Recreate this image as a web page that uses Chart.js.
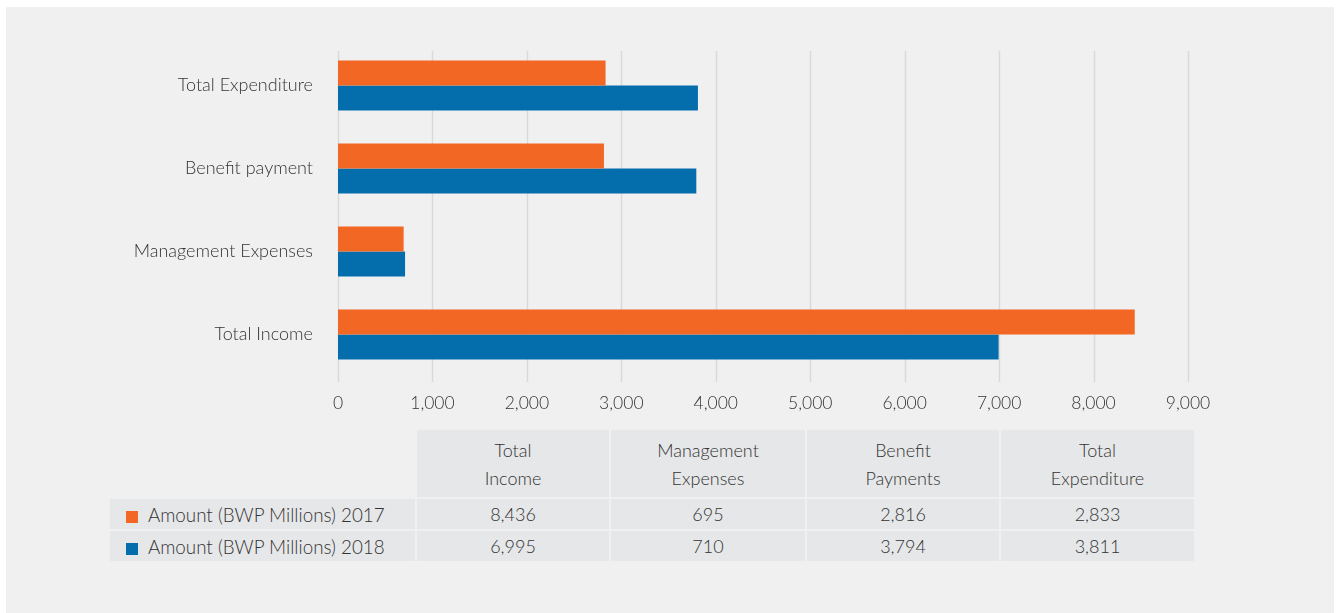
<!DOCTYPE html>
<html>
<head>
<meta charset="utf-8">
<script src="https://cdn.jsdelivr.net/npm/chart.js@4/dist/chart.umd.min.js"></script>
<style>
  html, body { margin: 0; padding: 0; background: #ffffff; }
  body { width: 1341px; height: 613px; position: relative; overflow: hidden;
         font-family: Lato, "Open Sans", sans-serif; font-weight: 300; color: #333333; }
  #panel { position: absolute; left: 6px; top: 7px; width: 1328px; height: 606px; background: #f0f0f0; }
  #wrap { position: absolute; left: 0; top: 0; width: 1341px; height: 425px; }
  #dataTable { position: absolute; left: 108px; top: 428px; border-collapse: separate;
               border-spacing: 2px; font-size: 18px; }
  #dataTable td { background: #e6e7e8; text-align: center; padding: 0; }
  #dataTable thead td { height: 67px; line-height: 28px; }
  #dataTable thead td.blank { background: transparent; }
  #dataTable tbody td { height: 30px; }
  #dataTable td.lbl { text-align: left; padding-left: 16px; width: 289px; font-size: 18.8px; }
  .sw { display: inline-block; width: 12px; height: 12px; margin-right: 10px; vertical-align: -1px; }
</style>
</head>
<body>
<div id="panel"></div>
<div id="wrap"><canvas id="fundChart" width="1341" height="425"></canvas></div>
<table id="dataTable"><thead></thead><tbody></tbody></table>
<script>
// categories top to bottom on the chart
var categories = ['Total Expenditure', 'Benefit payment', 'Management Expenses', 'Total Income'];
// column headings for the table (left to right)
var tableHeads = [['Total', 'Income'], ['Management', 'Expenses'], ['Benefit', 'Payments'], ['Total', 'Expenditure']];
var seriesNames = ['Amount (BWP Millions) 2017', 'Amount (BWP Millions) 2018'];
var amount2017 = [2833, 2816, 695, 8436];
var amount2018 = [3811, 3794, 710, 6995];
var xTicks = [0, 1000, 2000, 3000, 4000, 5000, 6000, 7000, 8000, 9000];
var colors = ['#f26724', '#046ead'];

var fontFam = 'Lato, "Open Sans", sans-serif';

// vertical gridlines run a little past the category bands, so draw them here
var gridLines = {
  id: 'gridLines',
  beforeDatasetsDraw: function (chart) {
    var c = chart.ctx, xs = chart.scales.x, area = chart.chartArea;
    c.save();
    c.strokeStyle = '#d9d9d9';
    c.lineWidth = 1.5;
    xTicks.forEach(function (v) {
      var px = Math.round(xs.getPixelForValue(v)) + 0.5;
      c.beginPath();
      c.moveTo(px, area.top + 7);
      c.lineTo(px, area.bottom + 6);
      c.stroke();
    });
    c.restore();
  }
};

var ctx = document.getElementById('fundChart');
var fundChart = new Chart(ctx, {
  type: 'bar',
  data: {
    labels: categories,
    datasets: [
      { label: seriesNames[0], data: amount2017, backgroundColor: colors[0] },
      { label: seriesNames[1], data: amount2018, backgroundColor: colors[1] }
    ]
  },
  options: {
    indexAxis: 'y',
    responsive: false,
    animation: false,
    datasets: { bar: { categoryPercentage: 0.602, barPercentage: 1.0 } },
    layout: { padding: { left: 0, top: 44, right: 153, bottom: 0 } },
    plugins: { legend: { display: false }, tooltip: { enabled: false } },
    scales: {
      x: {
        min: 0,
        max: 9000,
        afterBuildTicks: function (axis) {
          axis.ticks = xTicks.map(function (v) { return { value: v }; });
        },
        afterFit: function (axis) { axis.height = 49; },
        grid: { display: false, drawTicks: false },
        border: { display: false },
        ticks: {
          padding: 17,
          color: '#333333',
          font: { family: fontFam, size: 17.5, weight: '300' },
          callback: function (v) { return v.toLocaleString('en-US'); }
        }
      },
      y: {
        afterFit: function (axis) { axis.width = 338; },
        grid: { display: false, drawTicks: false },
        border: { display: false },
        ticks: {
          padding: 25,
          color: '#333333',
          font: { family: fontFam, size: 18, weight: '300' }
        }
      }
    }
  },
  plugins: [gridLines]
});

// data table under the chart, columns run bottom category to top category
var head = document.querySelector('#dataTable thead');
var body = document.querySelector('#dataTable tbody');
var colW = [192, 194, 192, 193];
var hr = '<tr><td class="blank"></td>';
tableHeads.forEach(function (h, i) {
  hr += '<td style="width:' + colW[i] + 'px">' + h[0] + '<br>' + h[1] + '</td>';
});
head.innerHTML = hr + '</tr>';

[amount2017, amount2018].forEach(function (vals, s) {
  var row = '<tr><td class="lbl"><span class="sw" style="background:' + colors[s] + '"></span>' + seriesNames[s] + '</td>';
  vals.slice().reverse().forEach(function (v) {
    row += '<td>' + v.toLocaleString('en-US') + '</td>';
  });
  body.innerHTML += row + '</tr>';
});
</script>
</body>
</html>
